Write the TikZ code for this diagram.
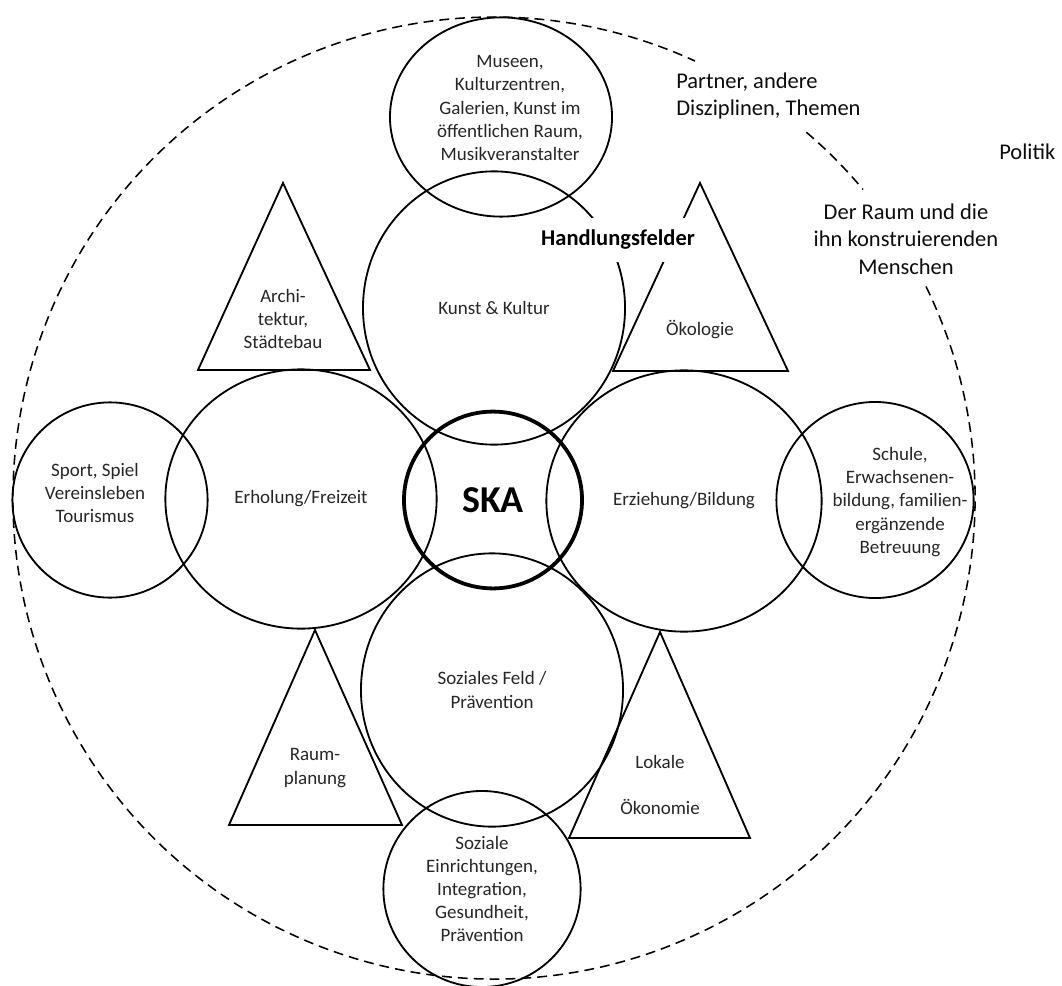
\documentclass[tikz,border=0pt]{standalone}
\usepackage{fontspec}
\setmainfont{Carlito}
\usetikzlibrary{shapes.geometric,positioning}
\newcommand{\feldschrift}{\fontsize{13.5}{16.4}\selectfont}
\tikzset{
  feld/.style={draw=black, ellipse, line width=1.3pt, inner sep=0pt, align=center, font=\feldschrift, text=black!85},
  dreieck/.style={draw=black, line width=1.3pt, line join=miter},
  etikett/.style={align=center, inner sep=0pt, font=\feldschrift, text=black!85},
  aussen/.style={inner sep=0pt, font=\fontsize{16}{19.6}\selectfont, text=black!95},
  rand/.style={dashed, dash pattern=on 7pt off 4.3pt, line width=1.1pt},
}

\begin{document}
\begin{tikzpicture}[x=0.025cm, y=-0.025cm]
    \useasboundingbox (0,0) rectangle (1062,985);

    % dashed border, open at the two labels
    \coordinate (mitte) at (494,498);
    \draw[rand] (mitte) ++(-26.1:481) arc[start angle=-26.1, end angle=294.7, radius=481];
    \draw[rand] (mitte) ++(-49.5:481) arc[start angle=-49.5, end angle=-39.9, radius=481];

    % triangles
    \coordinate (arch1) at (283,183); \coordinate (arch2) at (370,370); \coordinate (arch3) at (198,370);
    \draw[dreieck] (arch1) -- (arch2) -- (arch3) -- cycle;
    \coordinate (oeko1) at (700,183); \coordinate (oeko2) at (788,371); \coordinate (oeko3) at (613,371);
    \draw[dreieck] (oeko1) -- (oeko2) -- (oeko3) -- cycle;
    \coordinate (raum1) at (315,630); \coordinate (raum2) at (402,825); \coordinate (raum3) at (229,825);
    \draw[dreieck] (raum1) -- (raum2) -- (raum3) -- cycle;
    \coordinate (lok1) at (660,632); \coordinate (lok2) at (750,838); \coordinate (lok3) at (569,838);
    \draw[dreieck] (lok1) -- (lok2) -- (lok3) -- cycle;

    \node[etikett] (architektur) at (283,319) {Archi-\\tektur,\\Städtebau};
    \node[etikett] (oekologie) at (700,330) {Ökologie};
    \node[etikett] (raumplanung) at (315,768) {Raum-\\planung};
    \node[etikett] (oekonomie) at (660,785) {Lokale\\[0.575cm]Ökonomie};

    % outer fields
    \node[feld, minimum width=5.55cm, minimum height=4.98cm] (museen) at (501,117) {};
    \node[etikett] (museen-text) at (510,108) {Museen,\\Kulturzentren,\\Galerien, Kunst im\\öffentlichen Raum,\\Musikveranstalter};
    \node[feld, minimum width=4.88cm, minimum height=4.88cm] (sport) at (110,500) {};
    \node[etikett] (sport-text) at (95,493) {Sport, Spiel\\Vereinsleben\\Tourismus};
    \node[feld, minimum width=4.93cm, minimum height=4.9cm] (schule) at (875,500) {};
    \node[etikett] (schule-text) at (900,502) {Schule,\\Erwachsenen-\\bildung, familien-\\ergänzende\\Betreuung};
    \node[feld, minimum width=4.93cm, minimum height=4.9cm] (einrichtungen) at (482,889) {Soziale\\Einrichtungen,\\Integration,\\Gesundheit,\\Prävention};

    % Handlungsfelder
    \node[feld, minimum width=6.55cm, minimum height=6.83cm] (kunst) at (494,308) {Kunst \& Kultur};
    \node[feld, minimum width=6.55cm, minimum height=6.83cm] (sozial) at (492,690) {Soziales Feld /\\Prävention};
    \node[feld, minimum width=6.78cm, minimum height=6.48cm] (erholung) at (301,499) {Erholung/Freizeit};
    \node[feld, minimum width=6.88cm, minimum height=6.53cm] (erziehung) at (684,501) {Erziehung/Bildung};

    \node[feld, line width=2.7pt, minimum width=4.45cm, minimum height=4.42cm, text=black, font=\fontsize{27}{30}\selectfont\bfseries] (ska) at (493,500) {SKA};

    \node[fill=white, inner xsep=0pt, minimum height=1.1cm, font=\fontsize{16}{19}\selectfont\bfseries] (handlungsfelder) at (618,240) {Handlungsfelder};

    % texts outside
    \node[aussen, anchor=west, align=left] (partner) at (676,96) {Partner, andere\\Disziplinen, Themen};
    \node[aussen, anchor=west] (politik) at (999,152) {Politik};
    \node[aussen, align=center] (raum) at (906,239) {Der Raum und die\\ihn konstruierenden\\Menschen};

\end{tikzpicture}
\end{document}
